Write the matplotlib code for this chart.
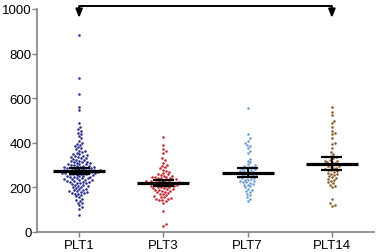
import numpy as np
import matplotlib
matplotlib.use("Agg")
import matplotlib.pyplot as plt

plt.rcParams['font.family'] = ['Liberation Sans', 'DejaVu Sans']

groups = ["PLT1", "PLT3", "PLT7", "PLT14"]
colors = ["#2a2f8c", "#c3262d", "#6c9dd2", "#8c5b2e"]

plt1 = [885, 690, 620, 560, 545, 490, 470, 460, 455, 445, 440, 430, 420, 410, 400,
        395, 390, 385, 380, 375, 370, 365, 362, 358, 355, 350, 348, 345, 342, 340,
        338, 335, 332, 330, 328, 325, 322, 320, 318, 316, 314, 312, 310, 308, 306,
        305, 303, 301, 300,
        298, 296, 295, 293, 292, 290, 289, 288, 287, 285, 284, 283, 282, 280, 279,
        278, 277, 276, 275, 274, 273, 272, 271, 270, 269, 268, 267, 266, 265, 264,
        263, 262, 261, 260,
        258, 256, 255, 253, 252, 250, 248, 247, 245, 243, 242, 240, 238, 236, 235,
        233, 231, 230, 228, 226, 225, 223, 221, 220,
        218, 215, 212, 210, 207, 205, 202, 200, 197, 195, 192, 190, 187, 185, 182,
        180, 178, 176, 174, 172, 170,
        165, 160, 155, 150, 145, 140, 132, 128, 120, 110, 105, 76]
plt3 = [425, 390, 370, 362, 355, 330, 322, 310, 300, 295, 290, 285, 280,
        275, 270, 265, 262, 258, 255, 252, 250, 248, 247, 245, 243, 242, 240,
        238, 236, 235, 233, 232, 230, 229, 228, 226, 225, 224, 222, 221, 220, 219,
        218, 216, 215, 213, 212, 210, 209, 208, 206, 205, 203, 202, 200,
        198, 196, 194, 192, 190, 188, 186, 184, 180, 178, 175, 172, 170, 165, 160,
        157, 155, 152, 150, 148, 145, 143, 140,
        130, 95, 35, 25]
plt7 = [555, 440, 420, 410, 398, 392, 386, 378, 362, 355, 328, 320, 312,
        305, 300, 296, 292, 290, 288, 285, 282, 280, 278, 275, 272, 270, 268, 265,
        262, 260, 258, 255, 252, 250,
        248, 245, 242, 240, 237, 235, 232, 230, 228, 225, 222, 220, 215, 212, 210,
        205, 200, 195, 190,
        185, 180, 172, 165, 158, 150, 140]
plt14 = [560, 540, 525, 500, 490, 470, 455, 445, 440, 420, 400, 395, 375, 360, 350,
         340, 335, 330, 325, 320, 318, 315, 312, 310, 305, 300, 298, 295, 290, 288,
         285, 282, 280,
         276, 272, 270, 266, 262, 258, 255, 250, 245, 240, 236, 232, 228, 222, 218,
         212, 205, 200,
         150, 130, 120, 118]
data = [plt1, plt3, plt7, plt14]

# mean and SEM
means = [273, 221, 266, 307]
sems = [14, 13, 19, 29]

fig = plt.figure(figsize=(3.78, 2.53), dpi=100)
ax = fig.add_axes([37/378, 20/253, 337/378, 223/253])
ax.set_xlim(-0.5, 3.5)
ax.set_ylim(0, 1000)

# pixel scales for swarm layout
px_y = 223 / 1000.0
px_x = 337 / 4.0


def swarm(vals, d=3.1):
    ys = np.sort(np.array(vals, dtype=float))
    placed = []
    out = []
    for v in ys:
        y = v * px_y
        near = [(a, b) for a, b in placed if abs(b - y) < d]
        cands = [0.0]
        for a, b in near:
            dx = np.sqrt(d * d - (b - y) ** 2)
            cands += [a + dx, a - dx]
        cands.sort(key=abs)
        for c in cands:
            if all((c - a) ** 2 + (y - b) ** 2 >= d * d - 1e-6 for a, b in near):
                break
        placed.append((c, y))
        out.append((c / px_x, v))
    return np.array(out)


for i, vals in enumerate(data):
    pts = swarm(vals)
    ax.scatter(i + pts[:, 0], pts[:, 1], s=3.4, color=colors[i], linewidths=0, zorder=2)
    ax.plot([i - 0.31, i + 0.31], [means[i], means[i]], color='k', lw=2.3, zorder=3,
            solid_capstyle='butt')
    ax.plot([i, i], [means[i] - sems[i], means[i] + sems[i]], color='k', lw=1.3, zorder=3)
    for s in (-1, 1):
        ax.plot([i - 0.125, i + 0.125], [means[i] + s * sems[i]] * 2, color='k', lw=1.6,
                zorder=3, solid_capstyle='butt')

# comparison bracket
ax.plot([0, 3], [1012, 1012], color='k', lw=1.4, clip_on=False, solid_capstyle='butt')
for xx in (0, 3):
    ax.annotate("", xy=(xx, 960), xytext=(xx, 1013), annotation_clip=False,
                arrowprops=dict(arrowstyle='-|>,head_width=0.2,head_length=0.5',
                                color='k', lw=1.4, shrinkA=0, shrinkB=0))

for side in ('top', 'right'):
    ax.spines[side].set_visible(False)
for side in ('left', 'bottom'):
    ax.spines[side].set_color('#808080')
    ax.spines[side].set_linewidth(1.2)

ax.set_yticks([0, 200, 400, 600, 800, 1000])
ax.set_xticks(range(4))
ax.set_xticklabels(groups)
ax.tick_params(axis='both', colors='#808080', labelcolor='k', labelsize=9.5,
               length=3.5, width=1.0)
ax.tick_params(axis='y', pad=0.5)
ax.tick_params(axis='x', pad=1.5)

fig.savefig("out.png", dpi=100)
